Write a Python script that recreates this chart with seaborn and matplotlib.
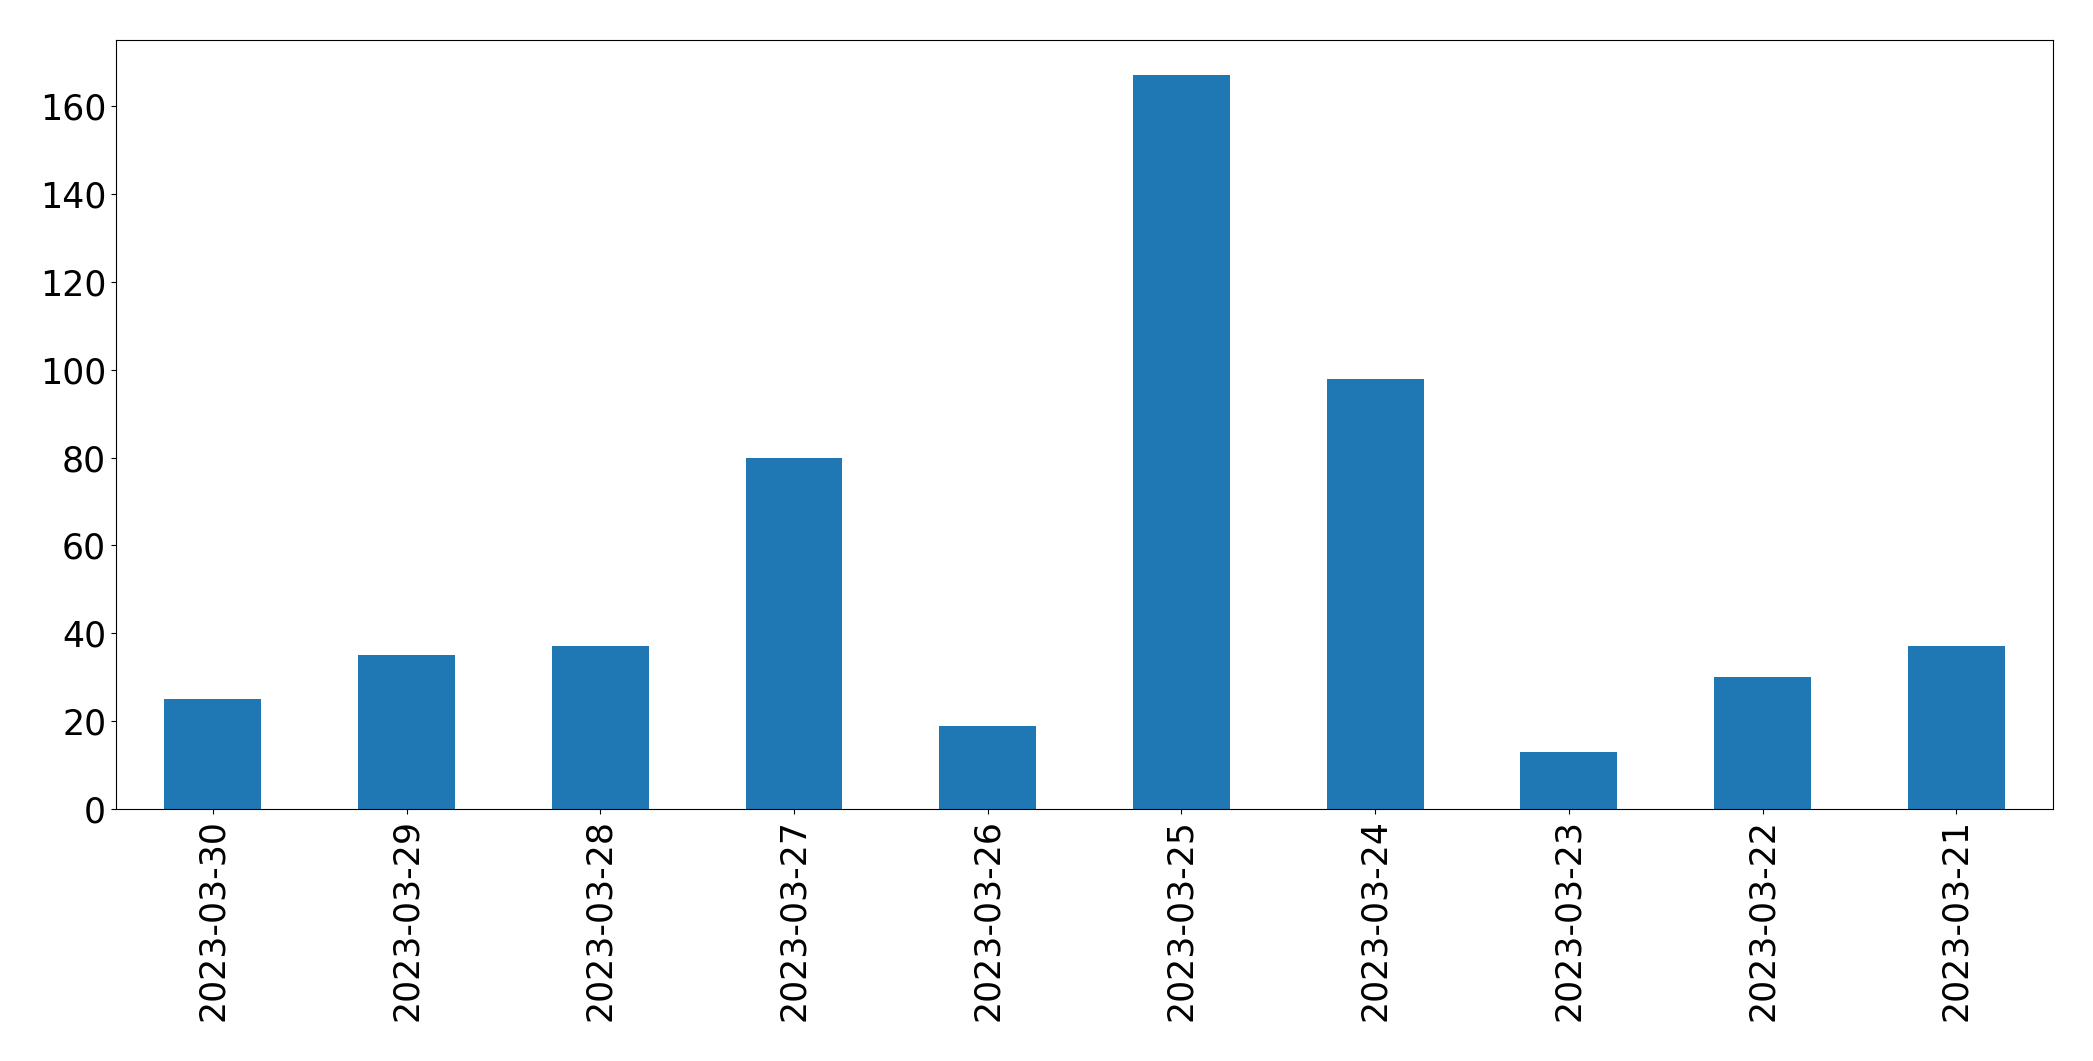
"""Bar chart of daily counts, newest date first."""

import matplotlib

matplotlib.use("Agg")

import matplotlib.pyplot as plt
import pandas as pd
import seaborn as sns

dates = [
    "2023-03-30",
    "2023-03-29",
    "2023-03-28",
    "2023-03-27",
    "2023-03-26",
    "2023-03-25",
    "2023-03-24",
    "2023-03-23",
    "2023-03-22",
    "2023-03-21",
]
counts = [25, 35, 37, 80, 19, 167, 98, 13, 30, 37]

df = pd.DataFrame({"date": dates, "count": counts})

fig, ax = plt.subplots(figsize=(20.93, 10.61), dpi=100)
fig.subplots_adjust(left=0.0554, right=0.981, top=0.962, bottom=0.2375)

sns.barplot(
    data=df,
    x="date",
    y="count",
    order=dates,
    color="#1f77b4",
    saturation=1,
    width=0.5,
    ax=ax,
)

ax.set_xlabel("")
ax.set_ylabel("")
ax.set_ylim(0, 175)
ax.set_xlim(-0.5, len(dates) - 0.5)
ax.set_yticks(range(0, 161, 20))
ax.tick_params(axis="both", labelsize=25)
ax.tick_params(axis="x", rotation=90)

fig.savefig("out.png", dpi=100)
